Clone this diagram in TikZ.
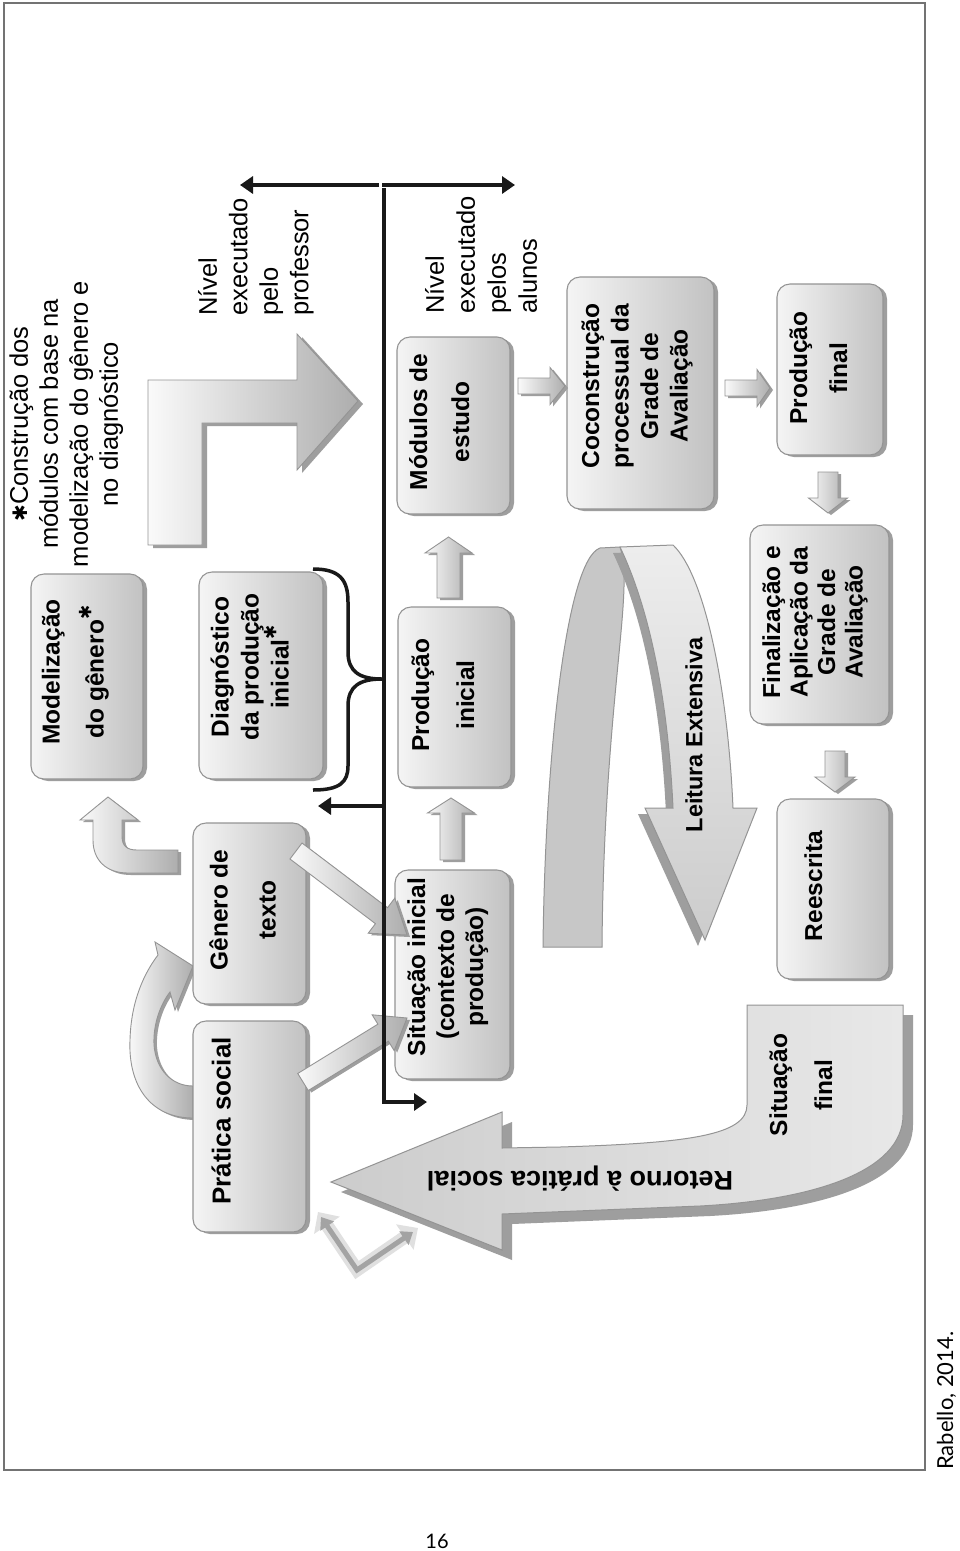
\documentclass[tikz,border=0pt]{standalone}
\usepackage{fontspec}
\setmainfont{Liberation Sans}
\newfontfamily\symfnt{DejaVu Sans}
\newfontfamily\capfnt{Lato}
\usetikzlibrary{calc,arrows.meta}
\definecolor{edgec}{gray}{0.58}
\definecolor{boxl}{gray}{0.96}
\definecolor{boxr}{gray}{0.76}
\definecolor{shadc}{gray}{0.62}
\definecolor{arl}{gray}{0.98}
\definecolor{arr}{gray}{0.68}
\definecolor{framec}{gray}{0.45}
\definecolor{blkc}{gray}{0.1}
\definecolor{backc}{gray}{0.78}
\definecolor{frontt}{gray}{0.93}
\definecolor{frontb}{gray}{0.80}
\definecolor{retl}{gray}{0.80}
\definecolor{retr}{gray}{0.91}
\definecolor{voutc}{gray}{0.88}
\definecolor{vinc}{gray}{0.64}

\newcommand{\strt}{\rule[-0.25em]{0pt}{1em}}
\newcommand{\astk}{{\symfnt\mdseries\fontsize{20pt}{20pt}\selectfont ✱}}
\newcommand{\supastk}{\raisebox{0.5em}{\symfnt\mdseries\fontsize{17pt}{17pt}\selectfont ✱}}

\tikzset{
  bx/.style={draw=edgec, line width=1.1pt, rounded corners=13pt, left color=boxl, right color=boxr, inner sep=0pt},
  bt/.style={rotate=90, anchor=north, inner sep=0pt, align=center, font=\bfseries\fontsize{24.5pt}{#1pt}\selectfont},
  rt/.style={rotate=90, inner sep=0pt, font=\fontsize{25.5pt}{#1pt}\selectfont},
  baf/.style={draw=edgec, line width=0.9pt, left color=arl, right color=arr},
  blk/.style={line width=3.5pt, draw=blkc},
  blkar/.style={blk, -{Triangle[length=13pt,width=17pt]}},
}

% block arrow polygon: tail, tip, shaft half width, head half width, head length, style
\newcommand{\bapoly}[6]{%
  \path (#1) coordinate (ba-t) (#2) coordinate (ba-h);
  \path ($(ba-h)!#5!(ba-t)$) coordinate (ba-b);
  \path[#6] ($(ba-t)!#3!90:(ba-h)$) -- ($(ba-b)!#3!90:(ba-h)$) -- ($(ba-b)!#4!90:(ba-h)$) -- (ba-h) -- ($(ba-b)!#4!-90:(ba-h)$) -- ($(ba-b)!#3!-90:(ba-h)$) -- ($(ba-t)!#3!-90:(ba-h)$) -- cycle;
}
\newcommand{\blockarr}[5]{%
  \bapoly{$(#1)+(3,2)$}{$(#2)+(3,2)$}{#3}{#4}{#5}{fill=shadc}
  \bapoly{#1}{#2}{#3}{#4}{#5}{baf}
}
% box with shadow: name, cx, cy, w, h
\newcommand{\boxat}[5]{%
  \fill[shadc, rounded corners=13pt] ($(#2,#3)+(4-#4/2,2-#5/2)$) rectangle ++(#4,#5);
  \node[bx, minimum width=#4pt, minimum height=#5pt] (#1) at (#2,#3) {};
}
\newcommand{\retshape}[1]{\path[#1] (747,1005) -- (903,1005) -- (903,1115) .. controls (903,1172) and (812,1200) .. (700,1206) -- (502,1214) -- (502,1250) -- (331,1182) -- (502,1112) -- (502,1148) -- (560,1147) .. controls (690,1143) and (747,1135) .. (747,1105) -- cycle;}
\newcommand{\leitfront}[1]{\path[#1] (620,547) -- (673,545) .. controls (705,575) and (728,690) .. (733,808) -- (757,808) -- (705,940) -- (645,808) -- (673,808) .. controls (668,700) and (650,610) .. (620,547) -- cycle;}
\newcommand{\Lshape}[1]{\path[#1] (148,545) -- (148,380) -- (297,380) -- (297,334) -- (358,401) -- (297,470) -- (297,423) -- (202,423) -- (202,545) -- cycle;}
\newcommand{\cGM}[1]{\path[#1] (108,797) -- (138,820) -- (122,820) -- (122,836) .. controls (122,846) and (127,850) .. (137,850) -- (178,850) -- (178,873) -- (128,873) .. controls (106,873) and (93,860) .. (93,840) -- (93,820) -- (80,820) -- cycle;}
\newcommand{\cPG}[1]{\path[#1] (193,1118) .. controls (150,1118) and (128,1085) .. (130,1040) .. controls (131,1000) and (145,972) .. (158,955) -- (155,942) -- (193,966) -- (175,1010) -- (170,992) .. controls (160,1005) and (153,1025) .. (154,1045) .. controls (156,1070) and (172,1086) .. (193,1086) -- cycle;}

\begin{document}
\begin{tikzpicture}[x=1pt,y=-1pt]
\useasboundingbox (0,0) rectangle (960,1551);
\fill[white] (0,0) rectangle (960,1551);
\draw[framec, line width=1.1pt] (4,3) rectangle (925,1470);

% big return arrow
\retshape{fill=shadc, shift={(10,10)}}
\retshape{draw=edgec, line width=1pt, left color=retl, right color=retr}

% Leitura extensiva ribbon arrow
\path[fill=backc, draw=edgec, line width=1pt] (543,947) .. controls (545,760) and (566,560) .. (600,548) -- (620,547) .. controls (635,590) and (604,700) .. (602,947) -- cycle;
\leitfront{fill=shadc, shift={(-7,6)}}
\leitfront{draw=edgec, line width=1pt, top color=frontt, bottom color=frontb}

% L-shaped arrow
\Lshape{fill=shadc, shift={(5,3)}}
\Lshape{baf}

% curved arrows
\cGM{fill=shadc, shift={(3,2)}}
\cGM{baf}
\cPG{fill=shadc, shift={(3,2)}}
\cPG{baf}

% boxes
\boxat{mod}{87}{676.5}{112}{205}
\boxat{diag}{261}{675.5}{124}{207}
\boxat{gen}{249.5}{913.5}{113}{181}
\boxat{prat}{249.5}{1126.5}{113}{211}
\boxat{mods}{453.5}{425.5}{113}{177}
\boxat{prodini}{454.5}{697}{113}{180}
\boxat{sitini}{452.5}{974.5}{115}{209}
\boxat{coco}{640.5}{393}{147}{232}
\boxat{prodfin}{830}{369.5}{106}{171}
\boxat{fin}{819.5}{624.5}{139}{199}
\boxat{rees}{833}{889}{112}{180}

% block arrows between boxes
\coordinate (a1t) at (448.5,598);  \coordinate (a1h) at (448.5,537);
\coordinate (a2t) at (451,860);    \coordinate (a2h) at (451,798);
\coordinate (a3t) at (518,386);    \coordinate (a3h) at (565,386);
\coordinate (a4t) at (725,388);    \coordinate (a4h) at (770,388);
\coordinate (a5t) at (828,472);    \coordinate (a5h) at (828,513);
\coordinate (a6t) at (835,751);    \coordinate (a6h) at (835,792);
\coordinate (a7t) at (296,851);    \coordinate (a7h) at (407,935);
\coordinate (a8t) at (303,1082);   \coordinate (a8h) at (407,1018);
\blockarr{a1t}{a1h}{11.5pt}{23.5pt}{16pt}
\blockarr{a2t}{a2h}{11pt}{23.5pt}{15pt}
\blockarr{a3t}{a3h}{8pt}{18.5pt}{15pt}
\blockarr{a4t}{a4h}{8pt}{18.5pt}{13pt}
\blockarr{a5t}{a5h}{10pt}{19.5pt}{15pt}
\blockarr{a6t}{a6h}{10pt}{20pt}{15pt}
\blockarr{a7t}{a7h}{10pt}{22pt}{32pt}
\blockarr{a8t}{a8h}{10pt}{21pt}{28pt}

% small V double arrow
\coordinate (vl) at (318,1212); \coordinate (vv) at (357,1270); \coordinate (vr) at (418,1228);
\draw[line width=13pt, draw=voutc, line join=miter, {Triangle[length=16pt,width=30pt]}-{Triangle[length=16pt,width=30pt]}] (vl) -- (vv) -- (vr);
\draw[line width=5pt, draw=vinc, line join=miter, {Triangle[length=11pt,width=16pt]}-{Triangle[length=11pt,width=16pt]}] ($(vl)+(3,5)$) -- (vv) -- ($(vr)+(-5,4)$);

% black level lines
\coordinate (jt) at (384,185);
\coordinate (ltip) at (240,185);
\coordinate (rtip) at (515,185);
\coordinate (btip) at (427,1102);
\coordinate (lj) at (384,806);
\coordinate (ltip2) at (318,806);
\coordinate (brtip) at (382,679);
\draw[blkar] ($(jt)+(-5,0)$) -- (ltip);
\draw[blkar] ($(jt)+(-2,0)$) -- (rtip);
\draw[blkar] ($(jt)+(0,3)$) |- (btip);
\draw[blkar] (lj) -- (ltip2);
\draw[blk] (313,569) .. controls (340,569) and (348,580) .. (348,602) -- (348,652) .. controls (348,672) and (360,679) .. (brtip) .. controls (360,679) and (348,686) .. (348,706) -- (348,766) .. controls (348,782) and (340,790) .. (313,790);

% box texts
\node[bt=44] (tmod) at (41,672) {\strt Modelização\\do gênero\supastk};
\node[bt=30] (tdiag) at (210,667) {\strt Diagnóstico\\da produção\\inicial\supastk};
\node[bt=48] (tgen) at (209,910) {\strt Gênero de\\texto};
\node[bt=30, font=\bfseries\fontsize{26pt}{30pt}\selectfont] (tprat) at (211,1121) {\strt Prática social};
\node[bt=42] (tmods) at (408.5,422) {\strt Módulos de\\estudo};
\node[bt=45] (tprodini) at (410.5,695) {\strt Produção\\inicial};
\node[bt=29] (tsitini) at (406.5,967) {\strt Situação inicial\\(contexto de\\produção)};
\node[bt=29.5] (tcoco) at (580.5,386) {\strt Coconstrução\\processual da\\Grade de\\Avaliação};
\node[bt=40] (tprodfin) at (788.5,368) {\strt Produção\\final};
\node[bt=27.5] (tfin) at (761.5,622) {\strt Finalização e\\Aplicação da\\Grade de\\Avaliação};
\node[bt=30] (trees) at (803.5,886) {\strt Reescrita};
\node[bt=30, font=\bfseries\fontsize{23.5pt}{28pt}\selectfont] (tleit) at (684.5,735) {\strt Leitura Extensiva};
\node[bt=45] (tsitfin) at (768.5,1085) {\strt Situação\\final};
\node[rotate=180, anchor=base, inner sep=0pt, font=\bfseries\fontsize{27pt}{30pt}\selectfont] (tret) at (580,1171) {Retorno à prática social};

% regular texts
\node[rt=30, anchor=north, align=center] (tstar) at (8.5,424) {\strt\astk Construção dos\\módulos com base na\\modelização do gênero e\\no diagnóstico};
\node[rt=30.5, anchor=north west, align=left] (tprof) at (197.5,316) {\strt Nível\\executado\\pelo\\professor};
\node[rt=31, anchor=north west, align=left] (talun) at (424.5,314) {\strt Nível\\executado\\pelos\\alunos};

% credits
\node[rotate=90, anchor=base west, inner sep=0pt, font=\capfnt\fontsize{22pt}{24pt}\selectfont] (cred) at (953,1470) {Rabello, 2014.};
\node[inner sep=0pt, font=\capfnt\fontsize{20pt}{22pt}\selectfont] (pg) at (437,1541) {16};
\end{tikzpicture}
\end{document}
